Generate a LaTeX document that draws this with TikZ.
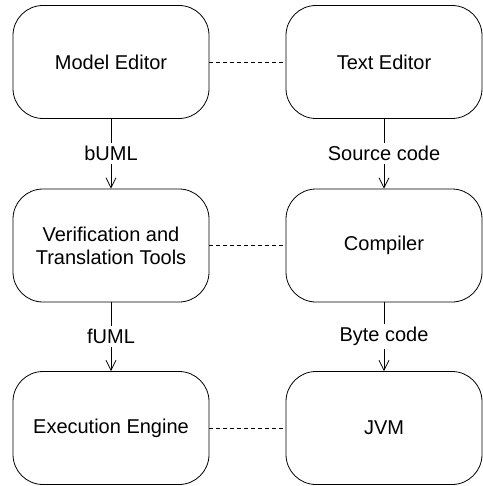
\documentclass[tikz,border=0pt]{standalone}
\usepackage{fontspec}
\setmainfont{Liberation Sans}
\usetikzlibrary{arrows.meta, positioning}

\tikzset{
    tool/.style={draw, line width=0.8pt, rounded corners=30pt, minimum width=196pt,
        minimum height=113pt, align=center, font=\fontsize{20}{23}\selectfont},
    flow/.style={line width=0.8pt, -{Straight Barb[length=10pt, width=10pt]}},
    link/.style={line width=0.8pt, dash pattern=on 4pt off 3pt},
    tag/.style={fill=white, inner sep=3pt, font=\fontsize{20}{23}\selectfont}
}

\begin{document}
\begin{tikzpicture}[x=1pt, y=-1pt]
    \useasboundingbox (0,0) rectangle (482,486);

    % Modellseite
    \node[tool] (model) at (111,62) {Model Editor};
    \node[tool] (verify) at (111,245.5) {Verification and\\Translation Tools};
    \node[tool] (engine) at (111,428) {Execution Engine};

    % Java-Seite
    \node[tool] (text) at (384,62) {Text Editor};
    \node[tool] (compiler) at (384,245.5) {Compiler};
    \node[tool] (jvm) at (384,428) {JVM};

    % Datenfluss
    \draw[flow] (model) -- node[tag] {bUML} (verify);
    \draw[flow] (verify) -- node[tag] {fUML} (engine);
    \draw[flow] (text) -- node[tag] {Source code} (compiler);
    \draw[flow] (compiler) -- node[tag] {Byte code} (jvm);

    % Entsprechungen
    \draw[link] (model) -- (text);
    \draw[link] (verify) -- (compiler);
    \draw[link] (engine) -- (jvm);
\end{tikzpicture}
\end{document}
